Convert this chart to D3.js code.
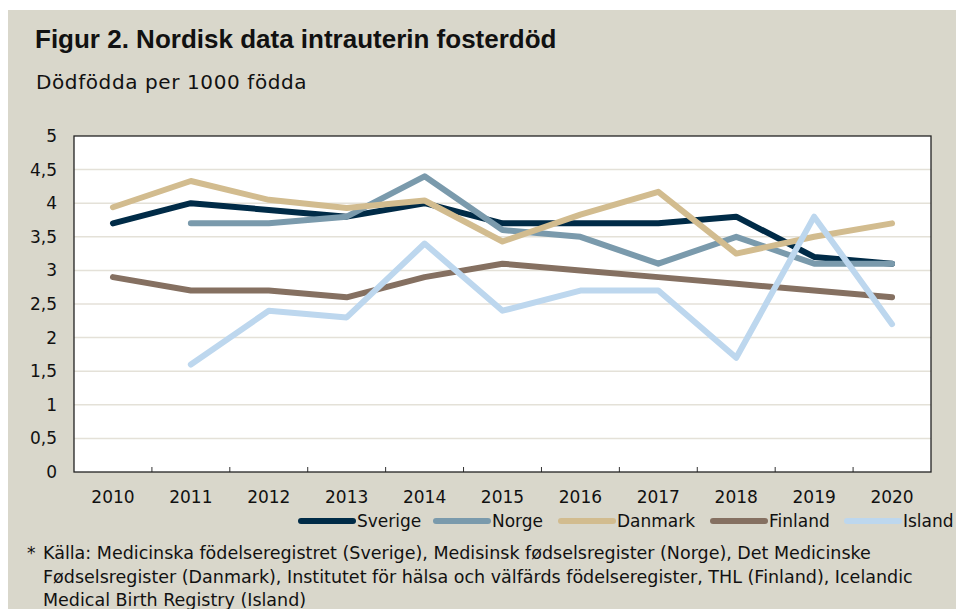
<!DOCTYPE html>
<html lang="sv">
<head>
<meta charset="utf-8">
<script src="https://d3js.org/d3.v7.min.js"></script>
<style>
  body { margin: 0; background: #fff; }
  text { font-family: "DejaVu Sans", sans-serif; fill: #111; }
</style>
</head>
<body>
<script>
// data
const years = ["2010","2011","2012","2013","2014","2015","2016","2017","2018","2019","2020"];
const sverige = [3.7, 4.0, 3.9, 3.8, 4.0, 3.7, 3.7, 3.7, 3.8, 3.2, 3.1];
const norge   = [null, 3.7, 3.7, 3.8, 4.4, 3.6, 3.5, 3.1, 3.5, 3.1, 3.1];
const danmark = [3.94, 4.33, 4.05, 3.93, 4.04, 3.43, 3.83, 4.17, 3.25, 3.5, 3.7];
const finland = [2.9, 2.7, 2.7, 2.6, 2.9, 3.1, 3.0, 2.9, 2.8, 2.7, 2.6];
const island  = [null, 1.6, 2.4, 2.3, 3.4, 2.4, 2.7, 2.7, 1.7, 3.8, 2.2];
const yTicks = [0, 0.5, 1, 1.5, 2, 2.5, 3, 3.5, 4, 4.5, 5];

const series = [
  {name: "Sverige", values: sverige, color: "#002b47"},
  {name: "Norge",   values: norge,   color: "#7a9aac"},
  {name: "Danmark", values: danmark, color: "#d2bc8f"},
  {name: "Finland", values: finland, color: "#857061"},
  {name: "Island",  values: island,  color: "#bdd7ee"}
];

const W = 956, H = 609;
const svg = d3.select("body").append("svg").attr("width", W).attr("height", H);

// beige panel
svg.append("rect").attr("x", 8).attr("y", 10).attr("width", W - 8).attr("height", H - 10)
  .attr("fill", "#d9d7cb");

svg.append("text").attr("x", 35).attr("y", 48)
  .style("font-family", "'Liberation Sans', Arial, sans-serif")
  .style("font-weight", "bold").style("font-size", "26px")
  .text("Figur 2. Nordisk data intrauterin fosterdöd");

svg.append("text").attr("x", 36).attr("y", 89).style("font-size", "20px")
  .style("letter-spacing", "0.6px")
  .text("Dödfödda per 1000 födda");

// plot area
const pL = 74, pR = 931, pT = 136, pB = 472;
const x = d3.scaleBand().domain(years).range([pL, pR]);
const y = d3.scaleLinear().domain([0, 5]).range([pB, pT]);

svg.append("rect").attr("x", pL).attr("y", pT).attr("width", pR - pL).attr("height", pB - pT)
  .attr("fill", "#fff");

// grid
svg.append("g").selectAll("line").data(yTicks.filter(d => d > 0 && d < 5)).join("line")
  .attr("x1", pL).attr("x2", pR)
  .attr("y1", d => y(d)).attr("y2", d => y(d))
  .attr("stroke", "#e4e1d8").attr("stroke-width", 1.5);

// y axis labels
svg.append("g").selectAll("text").data(yTicks).join("text")
  .attr("x", 57).attr("y", d => y(d) + 6)
  .attr("text-anchor", "end").style("font-size", "17px")
  .text(d => String(d).replace(".", ","));

// x axis labels
svg.append("g").selectAll("text").data(years).join("text")
  .attr("x", d => x(d) + x.bandwidth() / 2).attr("y", 503)
  .attr("text-anchor", "middle").style("font-size", "17px")
  .text(d => d);

// x ticks (inside, between categories)
svg.append("g").selectAll("line").data(years.slice(1)).join("line")
  .attr("x1", d => x(d)).attr("x2", d => x(d))
  .attr("y1", pB).attr("y2", pB - 5)
  .attr("stroke", "#333").attr("stroke-width", 1);

// border
svg.append("rect").attr("x", pL).attr("y", pT).attr("width", pR - pL).attr("height", pB - pT)
  .attr("fill", "none").attr("stroke", "#222").attr("stroke-width", 1.3);

// lines
const line = d3.line()
  .defined(d => d.v !== null)
  .x(d => x(d.year) + x.bandwidth() / 2)
  .y(d => y(d.v));

svg.append("g").selectAll("path").data(series).join("path")
  .attr("d", s => line(years.map((yr, i) => ({year: yr, v: s.values[i]}))))
  .attr("fill", "none").attr("stroke", s => s.color).attr("stroke-width", 6)
  .attr("stroke-linecap", "round").attr("stroke-linejoin", "round");

// legend
const legX = [301, 436, 561, 713, 847];
const leg = svg.append("g").selectAll("g").data(series).join("g")
  .attr("transform", (s, i) => `translate(${legX[i]},521)`);
leg.append("line").attr("x1", 0).attr("x2", 52).attr("y1", 0).attr("y2", 0)
  .attr("stroke", s => s.color).attr("stroke-width", 6).attr("stroke-linecap", "round");
leg.append("text").attr("x", 56).attr("y", 6).style("font-size", "17px").text(s => s.name);

// footnote
const note = [
  "Källa: Medicinska födelseregistret (Sverige), Medisinsk fødselsregister (Norge), Det Medicinske",
  "Fødselsregister (Danmark), Institutet för hälsa och välfärds födelseregister, THL (Finland), Icelandic",
  "Medical Birth Registry (Island)"
];
svg.append("text").attr("x", 27).attr("y", 559).style("font-size", "17px").text("*");
svg.append("g").selectAll("text").data(note).join("text")
  .attr("x", 43).attr("y", (d, i) => 559 + i * 23.5).style("font-size", "17.5px")
  .text(d => d);
</script>
</body>
</html>
